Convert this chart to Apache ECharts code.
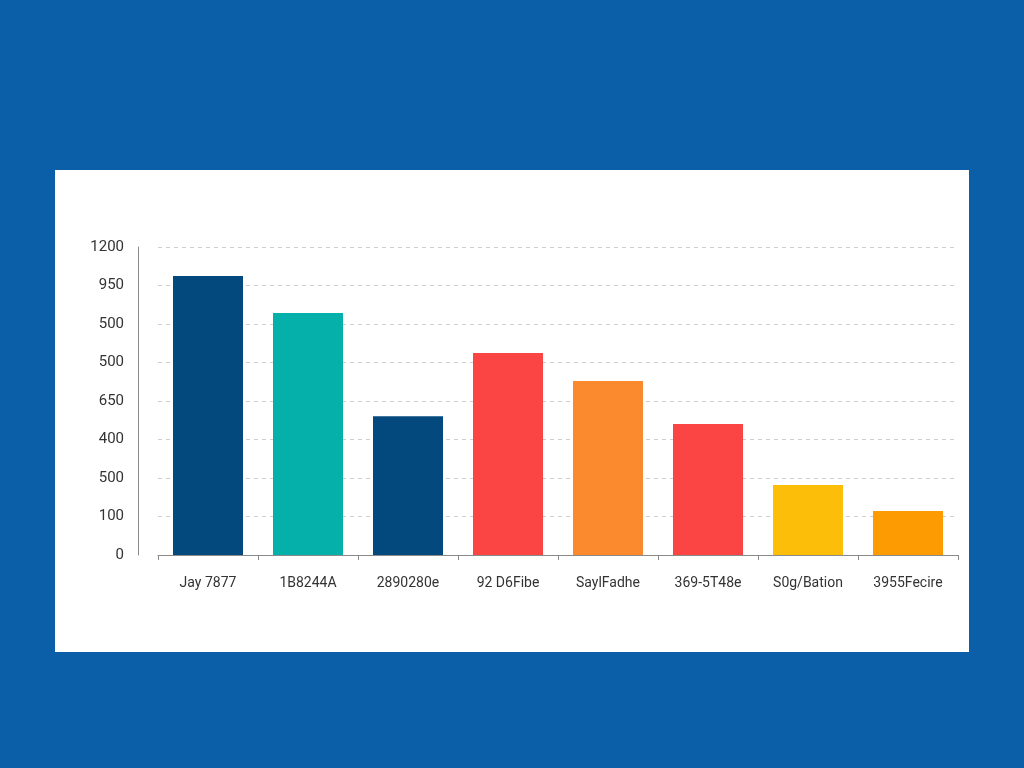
<!DOCTYPE html>
<html>
<head>
<meta charset="utf-8">
<script src="https://cdn.jsdelivr.net/npm/echarts@6/dist/echarts.min.js"></script>
<style>
  html, body { margin: 0; padding: 0; width: 1024px; height: 768px; background: #0b5ea8; overflow: hidden; }
  #chart { position: absolute; left: 55px; top: 170px; width: 914px; height: 482px; background: #ffffff; }
</style>
</head>
<body>
<div id="chart"></div>
<script>
var myChart = echarts.init(document.getElementById('chart'));

// categories and values
var categories = ['Jay 7877', '1B8244A', '2890280e', '92 D6Fibe', 'SaylFadhe', '369-5T48e', 'S0g/Bation', '3955Fecire'];
var values = [1087, 943, 541, 787, 678, 510, 273, 171];
var barColors = ['#04497d', '#05b0aa', '#04497d', '#fb4545', '#fb8a2e', '#fb4545', '#fdbe0a', '#fd9b02'];
// tick labels from bottom to top
var yTickLabels = ['0', '100', '500', '400', '650', '500', '500', '950', '1200'];

var option = {
    animation: false,
    grid: {
        left: 103,
        right: 11,
        top: 77,
        bottom: 97
    },
    xAxis: {
        type: 'category',
        data: categories,
        axisLine: { lineStyle: { color: '#8a8a8a' } },
        axisTick: { show: true, alignWithLabel: false, lineStyle: { color: '#8a8a8a' } },
        axisLabel: {
            color: '#333',
            fontSize: 14,
            margin: 21,
            fontFamily: 'Roboto, sans-serif'
        }
    },
    yAxis: {
        type: 'value',
        min: 0,
        max: 1200,
        interval: 150,
        offset: 20,
        axisLine: { show: true, lineStyle: { color: '#8a8a8a' } },
        axisTick: { show: false },
        axisLabel: {
            color: '#333',
            fontSize: 15,
            margin: 14,
            fontFamily: 'Roboto, sans-serif',
            formatter: function (v) {
                return yTickLabels[Math.round(v / 150)];
            }
        },
        splitLine: {
            show: true,
            lineStyle: { color: '#cfcfcf', type: [4, 4] }
        }
    },
    series: [
        {
            type: 'bar',
            barWidth: 70,
            data: values.map(function (v, i) {
                return { value: v, itemStyle: { color: barColors[i] } };
            })
        }
    ]
};

myChart.setOption(option);
</script>
</body>
</html>
